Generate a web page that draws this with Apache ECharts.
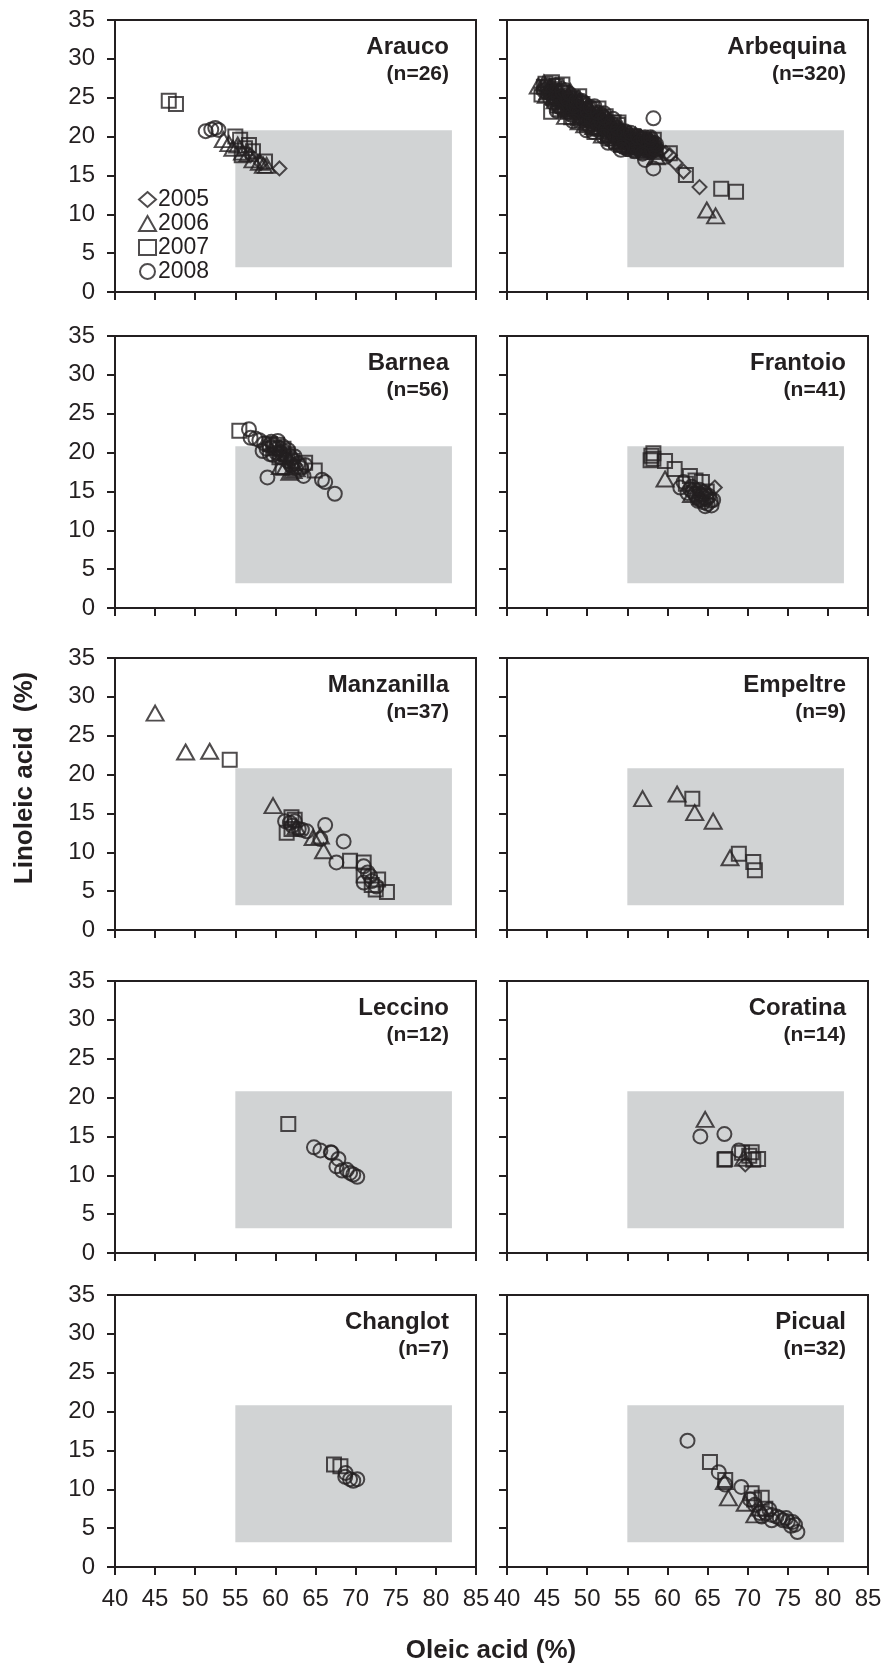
<!DOCTYPE html>
<html>
<head>
<meta charset="utf-8">
<script src="https://cdn.jsdelivr.net/npm/echarts@6/dist/echarts.min.js"></script>
<style>
  html, body { margin: 0; padding: 0; background: #fff; }
  #chart { width: 885px; height: 1670px; }
</style>
</head>
<body>
<div id="chart"></div>
<script>
// 品种名称与样本数
const cultivars = ['Arauco', 'Arbequina', 'Barnea', 'Frantoio', 'Manzanilla', 'Empeltre', 'Leccino', 'Coratina', 'Changlot', 'Picual'];
const counts = [26, 320, 56, 41, 37, 9, 12, 14, 7, 32];
const years = ['2005', '2006', '2007', '2008'];

// 刻度
const xMin = 40, xMax = 85, xStep = 5;
const yMin = 0, yMax = 35, yStep = 5;
// 灰色区域（油酸 / 亚油酸范围）
const zoneX = [55, 82];
const zoneY = [3.2, 20.8];

// 每个品种：[2005, 2006, 2007, 2008]，点为 [油酸, 亚油酸]
const arauco = [
  [[60.5,15.9],[58.2,16.6],[56.9,17.6]],
  [[53.5,19.6],[54.2,19.1],[54.7,18.5],[55.3,18.9],[55.9,18.0],[56.6,17.8],[57.2,17.0],[58.0,16.7],[58.5,16.3],[58.9,16.3]],
  [[46.7,24.6],[47.6,24.2],[55.0,20.0],[55.6,19.6],[56.2,18.5],[55.8,17.6],[57.2,18.1],[58.7,16.8],[56.7,18.9]],
  [[51.3,20.7],[52.0,20.9],[52.5,21.1],[52.9,20.85]]
];
const arbequina = [
  [[61.0,16.6],[62.0,15.5],[64.0,13.5],[60.3,17.6],
   [45.2,25.9],[46.1,24.6],[46.8,25.3],[47.4,23.8],[48.0,24.6],[48.6,22.9],[49.1,23.8],[49.7,22.2],[50.2,23.4],[50.8,21.6],
   [51.3,22.5],[51.9,20.9],[52.4,21.8],[52.9,20.3],[53.4,21.0],[53.9,19.6],[54.4,20.4],[54.9,19.0],[55.4,19.9],[55.9,18.6],
   [56.4,19.6],[56.9,18.4],[57.4,19.4],[57.9,18.5],[58.4,19.2],[59.2,18.2],[59.8,17.9],
   [44.7,26.2],[45.8,25.6],[46.4,23.7],[47.0,24.9],[47.9,23.5],[48.4,24.1],[49.0,22.4],[49.4,23.3],[50.0,22.9],[50.5,21.5],
   [51.1,23.0],[51.6,21.4],[52.2,20.6],[52.7,22.0],[53.2,19.9],[53.6,20.7],[54.1,20.9],[54.7,19.3],[55.2,20.5],[55.7,19.2],
   [56.2,18.3],[56.6,20.0],[57.1,18.9],[57.6,18.2],[58.1,19.8],[58.5,18.4],[50.3,23.9],[48.9,25.0],[46.9,26.3],[52.0,22.9],
   [45.5,25.1],[46.3,25.0],[47.2,24.2],[48.1,23.9],[48.8,23.4],[49.6,23.0],[50.4,22.4],[51.2,21.9],[52.0,21.4],[52.7,20.9],
   [53.5,20.5],[54.3,19.9],[55.0,19.5],[55.8,19.2],[56.5,18.9],[57.3,18.8],[58.0,18.9],[47.6,22.9],[50.1,21.2],[52.5,19.7]],
  [[64.9,10.55],[66.0,9.8],[43.9,26.5],[59.0,17.5],
   [44.6,26.9],[45.3,26.4],[45.9,25.2],[46.5,26.0],[47.1,24.4],[47.7,25.3],[48.3,23.6],[48.9,24.5],[49.5,22.8],[50.1,24.0],
   [50.7,22.9],[51.3,21.1],[51.9,22.2],[52.5,20.7],[53.1,21.6],[53.7,20.1],[54.3,21.0],[54.9,19.5],[55.5,20.2],[56.1,18.9],
   [56.7,19.8],[57.3,18.6],[57.9,19.6],[58.5,18.6],[58.6,17.4],
   [44.9,25.3],[45.6,26.0],[46.2,25.6],[46.8,24.1],[47.4,25.1],[48.0,23.3],[48.6,24.2],[49.2,22.6],[49.8,23.5],[50.4,21.8],
   [51.0,22.6],[51.6,22.9],[52.2,21.3],[52.8,21.9],[53.4,19.8],[54.0,20.5],[54.6,19.1],[55.2,18.8],[55.8,19.6],[56.4,18.7],
   [57.0,19.3],[57.6,18.9],[58.2,18.3],[47.9,25.8],[50.6,23.2],[53.8,21.3],[56.0,20.2],[49.0,21.9],[51.9,20.2],
   [45.1,25.8],[46.0,24.6],[46.9,25.0],[47.5,23.8],[48.4,24.6],[49.3,23.9],[50.0,22.6],[50.8,21.3],[51.5,22.2],[52.4,22.3],
   [53.2,20.3],[54.2,19.4],[55.0,20.2],[55.6,18.7],[56.5,19.4],[57.4,18.3],[58.1,19.2],[47.3,22.6],[49.7,21.5],[52.8,20.5]],
  [[60.3,17.85],[62.3,15.06],[66.7,13.3],[68.55,12.9],[45.5,23.2],[44.3,25.4],
   [44.8,26.8],[45.6,27.0],[46.2,26.5],[46.3,24.0],[47.0,25.6],[47.6,23.2],[48.2,25.0],[48.8,22.4],[49.4,24.2],[50.0,21.6],
   [50.6,23.5],[51.2,22.0],[51.8,21.0],[52.3,22.6],[52.8,19.8],[53.3,20.6],[53.8,21.5],[54.2,18.9],[54.8,20.1],[55.3,18.7],
   [55.8,20.0],[56.3,18.2],[56.8,19.3],[57.3,18.0],[57.8,18.8],[58.3,19.6],[58.4,18.0],
   [45.1,26.3],[45.9,25.8],[46.6,23.5],[47.3,24.6],[47.9,24.4],[48.5,23.3],[49.1,22.7],[49.7,23.6],[50.3,22.1],[50.9,22.8],
   [51.5,21.2],[52.0,21.7],[52.6,20.3],[53.1,21.2],[53.6,19.4],[54.1,20.0],[54.6,19.5],[55.1,19.6],[55.6,19.5],[56.1,18.9],
   [56.6,18.8],[57.1,19.6],[57.6,19.2],[58.0,18.4],[46.9,26.7],[49.0,25.2],[51.4,23.6],[53.9,21.8],
   [44.6,26.4],[45.4,26.1],[46.1,25.1],[46.9,23.9],[47.7,24.8],[48.5,24.4],[49.3,22.1],[50.1,22.5],[50.8,22.3],[51.7,22.5],
   [52.5,21.5],[53.3,21.8],[54.0,19.3],[54.9,19.2],[55.7,18.4],[56.4,19.8],[57.2,19.0],[58.1,18.6],[48.0,22.5],[50.9,20.6]],
  [[58.25,22.35],[58.25,15.9],[57.2,17.0],[50.7,20.6],[52.6,19.2],
   [44.9,25.7],[45.4,24.8],[46.0,25.9],[46.6,24.5],[47.2,26.0],[47.8,24.0],[48.4,24.9],[49.0,23.1],[49.6,24.0],[50.3,22.7],
   [50.9,23.9],[51.5,22.4],[52.1,23.0],[52.6,21.5],[53.2,22.3],[53.7,20.8],[54.2,19.6],[54.7,20.7],[55.2,19.1],[55.7,18.9],
   [56.2,20.1],[56.7,18.5],[57.2,19.9],[57.7,18.3],[58.2,18.2],[58.6,19.0],[55.0,18.4],[53.5,19.0],[51.0,21.0],
   [44.6,25.9],[45.3,25.7],[45.8,24.3],[46.4,25.2],[47.1,23.4],[47.6,24.7],[48.1,22.8],[48.7,23.7],[49.3,24.6],[49.9,22.4],
   [50.5,22.1],[51.1,21.6],[51.7,22.0],[52.3,21.0],[52.9,20.9],[53.4,20.4],[54.0,19.8],[54.5,20.1],[55.1,19.7],[55.6,19.5],
   [56.1,18.6],[56.6,19.3],[57.1,18.4],[57.6,19.4],[58.0,19.3],[58.4,18.5],[55.9,18.1],[54.4,18.7],[48.3,24.0],[50.0,23.3],
   [45.0,26.6],[46.0,26.6],[46.9,25.8],[47.8,25.5],[48.6,24.6],[49.5,24.4],[50.4,23.8],[51.3,23.1],[52.2,22.4],[53.0,21.7],
   [53.8,21.0],[54.6,20.6],[55.4,20.5],[56.3,19.9],[57.0,19.7],[57.9,19.9],[46.2,23.3],[48.2,22.0],[49.9,20.8],[52.0,20.0],
   [54.2,18.3],[56.9,17.8]]
];
const barnea = [
  [[60.4,20.1],[61.3,19.3],[62.4,18.4]],
  [[61.8,17.45],[61.2,18.1],[62.2,17.7],[60.6,18.2],[62.6,17.9]],
  [[55.5,22.8],[60.9,18.1],[63.7,18.7],[64.9,17.7],[59.9,20.6],[60.5,19.4],[61.5,19.8],[62.1,18.9],[59.3,21.1],[60.2,21.0],[62.9,18.2],[61.0,20.5]],
  [[56.7,23.0],[56.9,21.9],[58.0,21.6],[58.9,20.5],[59.7,20.9],[60.1,20.0],[60.6,19.4],[59.3,19.8],[61.0,20.2],[61.4,19.0],
   [61.8,19.6],[59.0,16.8],[63.5,17.0],[63.7,18.4],[65.8,16.5],[66.2,16.2],[67.4,14.7],[58.6,21.2],[59.5,21.4],[60.3,21.5],
   [60.9,20.8],[61.6,20.3],[62.0,19.2],[62.4,19.5],[59.7,19.7],[60.7,19.9],[61.2,19.6],[62.8,18.6],[58.4,20.2],[60.0,20.5],
   [61.9,18.4],[63.2,18.0],[59.2,20.9],[62.5,18.0],[57.5,21.8],[60.4,20.6]]
];
const frantoio = [
  [[65.9,15.5],[64.8,14.8],[63.8,15.2]],
  [[59.7,16.6],[64.2,14.3],[63.0,14.6]],
  [[58.0,19.6],[58.25,19.2],[58.25,19.9],[57.9,19.0],[59.7,18.9],[60.9,17.9],[62.8,17.0],[64.3,16.2],[63.5,16.4],[64.9,15.0],[62.3,16.0]],
  [[61.6,15.5],[62.0,16.2],[62.8,15.3],[63.4,14.7],[64.3,14.5],[64.9,14.0],[65.5,13.2],[65.7,13.9],[64.5,13.6],[63.9,14.0],
   [63.1,15.0],[64.0,15.2],[64.6,14.9],[65.2,14.4],[63.6,14.3],[64.2,13.9],[65.0,13.4],[63.0,15.6],[62.5,14.8],[64.8,14.2],
   [63.8,13.8],[65.4,13.8],[64.1,14.6],[64.7,13.1]]
];
const manzanilla = [
  [],
  [[45.0,27.9],[48.8,22.9],[51.8,23.0],[59.7,16.0],[64.7,11.9],[66.0,10.2],[65.6,12.1],[62.6,13.3]],
  [[54.3,21.9],[62.0,14.5],[61.4,12.5],[62.4,14.2],[69.3,8.9],[71.0,8.7],[71.0,7.0],[72.8,6.5],[73.9,4.9],[72.5,5.2],[62.0,13.0],[72.0,5.8]],
  [[61.2,14.0],[61.8,13.8],[62.1,13.4],[62.9,13.0],[63.9,12.7],[66.2,13.5],[65.6,11.7],[68.5,11.4],[67.6,8.7],[71.0,6.1],
   [71.8,6.95],[72.0,6.3],[72.6,5.6],[71.0,8.2],[62.4,14.0],[63.3,12.9],[71.5,7.4]]
];
const empeltre = [
  [],
  [[56.9,16.9],[61.2,17.5],[63.4,15.1],[65.7,14.0],[67.8,9.3]],
  [[63.1,16.9],[68.9,9.8],[70.7,8.75],[70.9,7.7]],
  []
];
const leccino = [
  [],
  [],
  [[61.6,16.6]],
  [[64.8,13.6],[65.6,13.2],[66.9,12.95],[67.0,12.9],[67.85,12.1],[67.6,11.15],[68.3,10.6],[68.9,10.7],[69.3,10.3],[69.7,10.1],[70.2,9.8]]
];
const coratina = [
  [[69.7,11.4]],
  [[64.7,17.2],[69.5,12.2]],
  [[67.1,12.0],[67.2,12.1],[70.5,12.95],[70.7,12.0],[71.3,12.1],[69.3,12.9],[70.2,12.5]],
  [[64.1,15.0],[67.1,15.3],[68.9,13.2]]
];
const changlot = [
  [],
  [],
  [[67.3,13.2],[68.1,12.95]],
  [[68.75,12.1],[68.7,11.6],[69.3,11.3],[69.7,11.1],[70.2,11.3]]
];
const picual = [
  [],
  [[67.1,11.0],[67.6,8.9],[69.7,8.2],[70.9,6.7],[71.5,7.6]],
  [[65.3,13.5],[67.2,11.2],[70.5,9.5],[71.75,8.9],[70.8,8.7],[72.2,7.5]],
  [[62.5,16.25],[66.4,12.2],[67.2,10.6],[69.2,10.3],[70.3,8.7],[70.9,8.0],[71.5,6.95],[72.7,7.4],[73.0,6.7],[74.0,6.3],
   [74.8,6.3],[75.0,5.9],[75.9,5.45],[76.2,4.5],[71.75,6.5],[73.0,6.0],[74.4,6.0],[75.4,5.3],[72.3,6.9],[73.6,6.5],[75.6,5.8]]
];
const panels = [arauco, arbequina, barnea, frantoio, manzanilla, empeltre, leccino, coratina, changlot, picual];

// 版面
const ink = '#231f20';
const zoneColor = '#d1d3d4';
const font = '"Liberation Sans", Arial, Helvetica, sans-serif';
const colLeft = [115, 507];
const rowTop = [20, 336, 658, 981, 1295];
const gridW = 361, gridH = 272;
const titleRight = [449, 846];
const symbols = ['diamond', 'triangle', 'rect', 'circle'];
const symbolSizes = [14, [17, 15], 14, 14];

const grid = [], xAxis = [], yAxis = [], series = [], title = [];

panels.forEach((sets, i) => {
  const col = i % 2, row = Math.floor(i / 2);
  const isBottom = row === rowTop.length - 1;
  grid.push({
    left: colLeft[col], top: rowTop[row], width: gridW, height: gridH,
    show: true, borderColor: ink, borderWidth: 2, backgroundColor: 'transparent'
  });
  xAxis.push({
    gridIndex: i, type: 'value', min: xMin, max: xMax, interval: xStep,
    axisLine: { show: true, onZero: false, lineStyle: { color: ink, width: 2 } },
    axisTick: { show: true, length: 8, lineStyle: { color: ink, width: 2 } },
    axisLabel: { show: isBottom, fontSize: 24, color: ink, fontFamily: font, margin: 20 },
    splitLine: { show: false }
  });
  yAxis.push({
    gridIndex: i, type: 'value', min: yMin, max: yMax, interval: yStep,
    axisLine: { show: true, onZero: false, lineStyle: { color: ink, width: 2 } },
    axisTick: { show: true, length: 8, lineStyle: { color: ink, width: 2 } },
    axisLabel: { show: col === 0, fontSize: 24, color: ink, fontFamily: font, margin: 20 },
    splitLine: { show: false }
  });
  // 灰色区域
  series.push({
    type: 'scatter', name: 'zone', xAxisIndex: i, yAxisIndex: i, data: [], z: 1,
    silent: true,
    markArea: {
      silent: true,
      itemStyle: { color: zoneColor },
      data: [[{ xAxis: zoneX[0], yAxis: zoneY[0] }, { xAxis: zoneX[1], yAxis: zoneY[1] }]]
    }
  });
  sets.forEach((pts, k) => {
    series.push({
      type: 'scatter', name: years[k], xAxisIndex: i, yAxisIndex: i, z: 3,
      data: pts,
      symbol: symbols[k], symbolSize: symbolSizes[k],
      itemStyle: { color: 'rgba(255,255,255,0)', borderColor: ink, borderWidth: 2 },
      emphasis: { disabled: true }
    });
  });
  title.push({
    text: cultivars[i], subtext: '(n=' + counts[i] + ')',
    left: titleRight[col], top: rowTop[row] + 15, textAlign: 'right', padding: 0, itemGap: 5,
    textStyle: { fontSize: 24, fontWeight: 'bold', color: ink, fontFamily: font },
    subtextStyle: { fontSize: 21, fontWeight: 'bold', color: ink, fontFamily: font }
  });
});

const chart = echarts.init(document.getElementById('chart'), null, { renderer: 'canvas' });
chart.setOption({
  animation: false,
  backgroundColor: '#fff',
  title: title,
  grid: grid,
  xAxis: xAxis,
  yAxis: yAxis,
  legend: {
    data: years, orient: 'vertical', left: 133, top: 183,
    itemWidth: 17, itemHeight: 15, itemGap: 1,
    selectedMode: false,
    textStyle: { fontSize: 23, color: ink, fontFamily: font, padding: [0, 0, 0, -3] }
  },
  graphic: [
    {
      type: 'text', x: 25, y: 778, rotation: Math.PI / 2,
      style: { text: 'Linoleic acid  (%)', fill: ink, font: 'bold 26px ' + font, align: 'center', verticalAlign: 'middle' }
    },
    {
      type: 'text', x: 491, y: 1651,
      style: { text: 'Oleic acid (%)', fill: ink, font: 'bold 26px ' + font, align: 'center', verticalAlign: 'middle' }
    }
  ],
  series: series
});
</script>
</body>
</html>
